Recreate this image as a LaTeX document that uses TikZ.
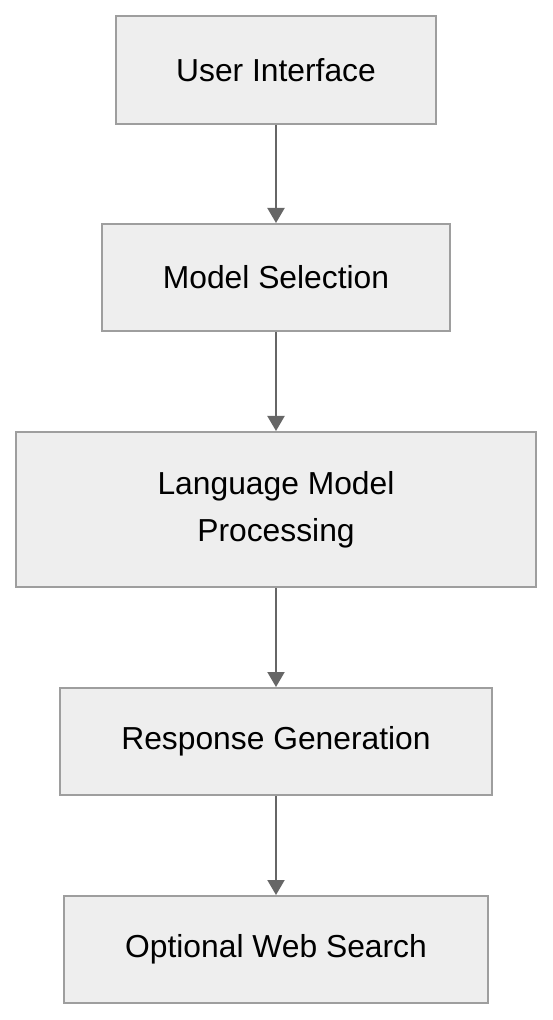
\documentclass[tikz,border=0pt]{standalone}
\usepackage{fontspec}
\setmainfont{Liberation Sans}
\usetikzlibrary{arrows.meta}
\definecolor{boxfill}{HTML}{EEEEEE}
\definecolor{boxline}{HTML}{9E9E9E}
\definecolor{flowgray}{HTML}{666666}
\begin{document}
\begin{tikzpicture}[x=0.5pt, y=-0.5pt,
		block/.style={draw=boxline, fill=boxfill, line width=1pt, inner sep=0pt, align=center,
			font=\fontsize{15.9}{23.3}\selectfont},
		flow/.style={-{Triangle[width=8.5pt, length=7.5pt]}, draw=flowgray, fill=flowgray, line width=1pt}]
			% Page
			\useasboundingbox (0,0) rectangle (552,1020);
			
			% Stages
			\node[block, minimum width=160pt, minimum height=54pt] (ui) at (276, 70) {User Interface};
			\node[block, minimum width=174pt, minimum height=53.5pt] (select) at (276, 277.5) {Model Selection};
			\node[block, minimum width=260pt, minimum height=77.5pt] (lmp) at (276, 509.5) {Language Model\\Processing};
			\node[block, minimum width=216pt, minimum height=53.5pt] (resp) at (276, 741.5) {Response Generation};
			\node[block, minimum width=212pt, minimum height=53.5pt] (web) at (276, 949.5) {Optional Web Search};
			
			% Flow
			\draw[flow] (ui) -- (select);
			\draw[flow] (select) -- (lmp);
			\draw[flow] (lmp) -- (resp);
			\draw[flow] (resp) -- (web);
		\end{tikzpicture}
\end{document}
